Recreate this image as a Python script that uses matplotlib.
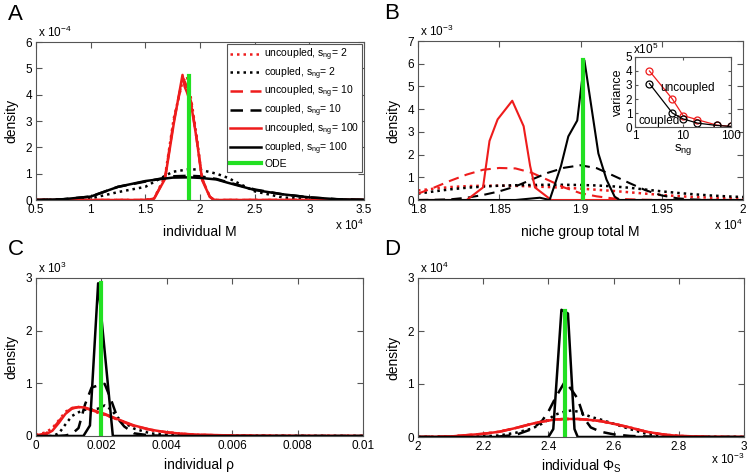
import matplotlib
matplotlib.use("Agg")
import matplotlib.pyplot as plt
import numpy as np

plt.rcParams['font.family'] = ['Liberation Sans', 'DejaVu Sans']
plt.rcParams['mathtext.fontset'] = 'custom'
plt.rcParams['mathtext.rm'] = 'Liberation Sans'
plt.rcParams['mathtext.it'] = 'Liberation Sans:italic'

RED = '#ee1c1c'
BLACK = '#000000'
GREEN = '#22e022'
DOT = (0, (1, 1.6))
DASH = (0, (5, 3))

# ---- panel A: individual M (x in 1e4, y in 1e-4)
a_x_black = [0.5, 0.75, 1.0, 1.25, 1.5, 1.65, 1.75, 1.9, 2.0, 2.15, 2.25, 2.5, 2.75, 3.0, 3.25, 3.5]
a_coupled2 = [0, 0.01, 0.06, 0.3, 0.5, 0.85, 1.07, 1.17, 1.15, 1.0, 0.85, 0.33, 0.1, 0.03, 0.01, 0]
a_coupled10 = [0, 0.03, 0.13, 0.5, 0.7, 0.82, 0.9, 0.92, 0.9, 0.8, 0.68, 0.4, 0.22, 0.1, 0.03, 0.01]
a_coupled100 = [0, 0.03, 0.13, 0.5, 0.72, 0.8, 0.85, 0.86, 0.84, 0.78, 0.66, 0.38, 0.22, 0.1, 0.03, 0.01]
a_x_red = [0.5, 1.5, 1.58, 1.68, 1.76, 1.84, 1.86, 1.88, 1.92, 1.97, 2.02, 2.09, 2.13, 3.5]
a_uncoupled2 = [0, 0, 0.06, 0.9, 3.1, 4.5, 4.6, 4.7, 3.8, 2.4, 0.8, 0.12, 0, 0]
a_uncoupled10 = [0, 0, 0.05, 0.85, 3.0, 4.6, 4.5, 4.3, 3.7, 2.3, 0.8, 0.12, 0, 0]
a_uncoupled100 = [0, 0, 0.05, 0.8, 2.9, 4.75, 4.3, 4.1, 3.6, 2.3, 0.75, 0.12, 0, 0]
a_ode = (1.9, 4.7)

# ---- panel B: niche group total M (x in 1e4, y in 1e-3)
b_x = [1.80, 1.81, 1.82, 1.83, 1.84, 1.85, 1.86, 1.87, 1.88, 1.89, 1.90,
       1.91, 1.92, 1.93, 1.94, 1.95, 1.96, 1.97, 1.98, 1.99, 2.00]
b_uncoupled2 = [0.42, 0.5, 0.57, 0.61, 0.63, 0.63, 0.62, 0.6, 0.57, 0.54, 0.5,
                0.45, 0.4, 0.34, 0.28, 0.22, 0.17, 0.13, 0.1, 0.08, 0.06]
b_coupled2 = [0.28, 0.38, 0.47, 0.54, 0.59, 0.63, 0.65, 0.66, 0.67, 0.67, 0.66,
              0.64, 0.6, 0.54, 0.46, 0.38, 0.31, 0.25, 0.2, 0.16, 0.13]
b_uncoupled10 = [0.28, 0.55, 0.85, 1.12, 1.33, 1.41, 1.39, 1.2, 0.88, 0.55, 0.3,
                 0.16, 0.07, 0.03, 0.01, 0, 0, 0, 0, 0, 0]
b_coupled10 = [0, 0.01, 0.03, 0.1, 0.22, 0.38, 0.6, 0.9, 1.2, 1.42, 1.53,
               1.4, 1.08, 0.75, 0.43, 0.2, 0.07, 0.02, 0, 0, 0]
b_x_red100 = [1.80, 1.83, 1.84, 1.844, 1.849, 1.858, 1.865, 1.869, 1.872, 1.882, 2.00]
b_uncoupled100 = [0, 0, 0.55, 2.6, 3.55, 4.37, 3.25, 1.5, 0.55, 0, 0]
b_x_black100 = [1.80, 1.86, 1.875, 1.881, 1.888, 1.8925, 1.898, 1.9024, 1.911, 1.916, 1.921, 1.924, 2.00]
b_coupled100 = [0, 0, 0.1, 0, 1.5, 2.8, 3.5, 6.15, 2.05, 0.9, 0.15, 0, 0]
b_ode = (1.9015, 6.15)

# inset: variance vs s_ng (y in 1e5)
sng = [2, 6, 10, 20, 50, 100]
var_uncoupled = [4.0, 2.0, 0.82, 0.52, 0.14, 0.04]
var_coupled = [3.1, 1.0, 0.58, 0.28, 0.11, 0.04]

# ---- panel C: individual rho (y in 1e3)
c_x = [0, 0.0003, 0.0005, 0.0007, 0.0009, 0.0011, 0.0013, 0.0015, 0.0017, 0.0019, 0.0021, 0.0023,
       0.0025, 0.0027, 0.003, 0.0035, 0.004, 0.0045, 0.005, 0.006, 0.007, 0.008, 0.01]
c_uncoupled2 = [0.02, 0.07, 0.15, 0.3, 0.46, 0.53, 0.55, 0.52, 0.48, 0.44, 0.4, 0.36,
                0.31, 0.26, 0.19, 0.11, 0.07, 0.04, 0.02, 0.01, 0.004, 0.001, 0]
c_uncoupled10 = [0.01, 0.05, 0.13, 0.28, 0.44, 0.53, 0.55, 0.53, 0.49, 0.45, 0.41, 0.36,
                 0.31, 0.26, 0.19, 0.12, 0.07, 0.04, 0.02, 0.01, 0.004, 0.001, 0]
c_uncoupled100 = [0, 0.03, 0.1, 0.25, 0.42, 0.52, 0.55, 0.54, 0.5, 0.46, 0.42, 0.37,
                  0.32, 0.27, 0.2, 0.12, 0.07, 0.04, 0.025, 0.01, 0.004, 0.001, 0]
c_coupled2 = [0, 0, 0, 0.05, 0.22, 0.38, 0.45, 0.5, 0.5, 0.52, 0.58, 0.5,
              0.35, 0.25, 0.14, 0.05, 0.02, 0.01, 0, 0, 0, 0, 0]
c_coupled10 = [0, 0, 0, 0, 0.01, 0.04, 0.15, 0.6, 0.92, 0.96, 0.99, 0.68,
               0.33, 0.18, 0.05, 0.01, 0, 0, 0, 0, 0, 0, 0]
c_x_black100 = [0, 0.00145, 0.00165, 0.0019, 0.00235, 0.01]
c_coupled100 = [0, 0, 0.2, 2.9, 0, 0]
c_ode = (0.002, 2.9)

# ---- panel D: individual Phi_S (x in 1e-3, y in 1e4)
d_x = [2.0, 2.1, 2.2, 2.25, 2.3, 2.35, 2.38, 2.4, 2.42, 2.45, 2.47, 2.49, 2.51, 2.53,
       2.56, 2.6, 2.65, 2.7, 2.75, 2.8, 2.9, 3.0]
d_uncoupled = [0, 0.01, 0.06, 0.1, 0.17, 0.25, 0.29, 0.31, 0.33, 0.34, 0.34, 0.34, 0.33, 0.32,
               0.3, 0.25, 0.18, 0.1, 0.05, 0.02, 0.003, 0]
d_coupled2 = [0, 0, 0.01, 0.03, 0.08, 0.16, 0.25, 0.33, 0.42, 0.48, 0.5, 0.48, 0.43, 0.38,
              0.33, 0.25, 0.15, 0.06, 0.02, 0.01, 0, 0]
d_coupled10 = [0, 0, 0, 0.01, 0.04, 0.15, 0.3, 0.48, 0.72, 1.04, 0.9, 0.72, 0.35, 0.18,
               0.1, 0.05, 0.02, 0.01, 0, 0, 0, 0]
d_x_black100 = [2.0, 2.40, 2.415, 2.44, 2.46, 2.48, 2.49, 3.0]
d_coupled100 = [0, 0, 0.15, 2.4, 2.33, 0.15, 0, 0]
d_ode = (2.45, 2.38)

FS = 8.5
W, H = 751, 476
fig = plt.figure(figsize=(W / 100, H / 100), dpi=100)


def add_axes(x0, y0, x1, y1):
    return fig.add_axes([x0 / W, 1 - y1 / H, (x1 - x0) / W, (y1 - y0) / H])


def style(ax, xlim, ylim, xticks, yticks, xlabels=None):
    ax.set_xlim(xlim)
    ax.set_ylim(ylim)
    ax.set_xticks(xticks)
    ax.set_yticks(yticks)
    if xlabels is not None:
        ax.set_xticklabels(xlabels)
    ax.tick_params(direction='in', length=4, top=True, right=True, labelsize=FS,
                   color='#555555', width=0.8, pad=3)
    for s in ax.spines.values():
        s.set_color('#555555')
        s.set_linewidth(0.8)


axA = add_axes(36, 42, 364, 200)
axB = add_axes(418, 41, 743, 200)
axC = add_axes(36, 278, 363, 436)
axD = add_axes(418, 278, 744, 437)

lw = 1.8
# A
axA.plot(a_x_red, a_uncoupled2, color=RED, ls=DOT, lw=lw, label=r'uncoupled, s$_{\rm ng}$= 2')
axA.plot(a_x_black, a_coupled2, color=BLACK, ls=DOT, lw=lw, label=r'coupled, s$_{\rm ng}$= 2')
axA.plot(a_x_red, a_uncoupled10, color=RED, ls=DASH, lw=lw, label=r'uncoupled, s$_{\rm ng}$= 10')
axA.plot(a_x_black, a_coupled10, color=BLACK, ls=DASH, lw=lw, label=r'coupled, s$_{\rm ng}$= 10')
axA.plot(a_x_red, a_uncoupled100, color=RED, lw=lw, label=r'uncoupled, s$_{\rm ng}$= 100')
axA.plot(a_x_black, a_coupled100, color=BLACK, lw=lw, label=r'coupled, s$_{\rm ng}$= 100')
axA.plot([a_ode[0], a_ode[0]], [0, a_ode[1]], color=GREEN, lw=3, label='ODE')
style(axA, (0.5, 3.5), (0, 6), [0.5, 1, 1.5, 2, 2.5, 3, 3.5], range(7),
      ['0.5', '1', '1.5', '2', '2.5', '3', '3.5'])
leg = axA.legend(loc='upper right', fontsize=7.5, handlelength=3.0, handletextpad=0.3,
                 labelspacing=0.22, borderpad=0.3, borderaxespad=0.15, fancybox=False,
                 framealpha=1, edgecolor='#555555')
leg.get_frame().set_linewidth(0.8)

# B
lwb = 1.5
axB.plot(b_x, b_uncoupled2, color=RED, ls=DOT, lw=lw)
axB.plot(b_x, b_coupled2, color=BLACK, ls=DOT, lw=lw)
axB.plot(b_x, b_uncoupled10, color=RED, ls=DASH, lw=lwb)
axB.plot(b_x, b_coupled10, color=BLACK, ls=DASH, lw=lwb)
axB.plot(b_x_red100, b_uncoupled100, color=RED, lw=lwb)
axB.plot(b_x_black100, b_coupled100, color=BLACK, lw=lwb)
axB.plot([b_ode[0], b_ode[0]], [0, b_ode[1]], color=GREEN, lw=3)
style(axB, (1.8, 2.0), (0, 7), [1.8, 1.85, 1.9, 1.95, 2.0], range(8),
      ['1.8', '1.85', '1.9', '1.95', '2'])

# inset
axI = add_axes(635, 57, 731, 127)
axI.plot(sng, var_uncoupled, color=RED, lw=0.9, marker='o', mfc='none', ms=5, mew=0.9)
axI.plot(sng, var_coupled, color=BLACK, lw=0.9, marker='o', mfc='none', ms=5, mew=0.9)
axI.set_xscale('log')
style(axI, (1, 100), (0, 5), [1, 10, 100], range(6), ['1', '10', '100'])
axI.minorticks_off()
axI.tick_params(labelsize=FS, length=2.5, pad=2)
axI.set_ylabel('variance', fontsize=FS + 0.5, labelpad=1)
axI.set_xlabel(r's$_{\rm ng}$', fontsize=FS + 1, labelpad=0)
axI.text(-0.02, 1.0, r'x10$^5$', transform=axI.transAxes, fontsize=FS, ha='left', va='bottom')
axI.text(0.55, 0.56, 'uncoupled', transform=axI.transAxes, fontsize=FS, ha='center', va='center')
axI.text(0.04, 0.08, 'coupled', transform=axI.transAxes, fontsize=FS, ha='left', va='center')

# C
axC.plot(c_x, c_uncoupled2, color=RED, ls=DOT, lw=lw)
axC.plot(c_x, c_coupled2, color=BLACK, ls=DOT, lw=lw)
axC.plot(c_x, c_uncoupled10, color=RED, ls=DASH, lw=lw)
axC.plot(c_x, c_coupled10, color=BLACK, ls=DASH, lw=lw)
axC.plot(c_x, c_uncoupled100, color=RED, lw=lw)
axC.plot(c_x_black100, c_coupled100, color=BLACK, lw=lw)
axC.plot([c_ode[0], c_ode[0]], [0, c_ode[1]], color=GREEN, lw=3)
style(axC, (0, 0.01), (0, 3), [0, 0.002, 0.004, 0.006, 0.008, 0.01], range(4),
      ['0', '0.002', '0.004', '0.006', '0.008', '0.01'])

# D
axD.plot(d_x, d_uncoupled, color=RED, ls=DOT, lw=lw)
axD.plot(d_x, d_coupled2, color=BLACK, ls=DOT, lw=lw)
axD.plot(d_x, d_uncoupled, color=RED, ls=DASH, lw=lw)
axD.plot(d_x, d_coupled10, color=BLACK, ls=DASH, lw=lw)
axD.plot(d_x, d_uncoupled, color=RED, lw=lw)
axD.plot(d_x_black100, d_coupled100, color=BLACK, lw=lw)
axD.plot([d_ode[0], d_ode[0]], [0, d_ode[1]], color=GREEN, lw=3)
style(axD, (2.0, 3.0), (0, 3), [2.0, 2.2, 2.4, 2.6, 2.8, 3.0], range(4),
      ['2', '2.2', '2.4', '2.6', '2.8', '3'])

# labels, multipliers, panel letters
LFS = 10
for ax, letter, lx, xl, ymult, xmult, xmy, lpad in [
        (axA, 'A', 8, 'individual M', r'x 10$^{-4}$', r'x 10$^4$', -0.11, 6),
        (axB, 'B', 384, 'niche group total M', r'x 10$^{-3}$', r'x 10$^4$', -0.11, 6),
        (axC, 'C', 8, 'individual ρ', r'x 10$^3$', None, 0, 4),
        (axD, 'D', 384, r'individual Φ$_{\rm S}$', r'x 10$^4$', r'x 10$^{-3}$', -0.095, 3)]:
    ax.set_xlabel(xl, fontsize=LFS, labelpad=lpad)
    ax.set_ylabel('density', fontsize=LFS)
    ax.yaxis.set_label_coords(-0.055, 0.5)
    ax.text(0.005, 1.015, ymult, transform=ax.transAxes, fontsize=FS, ha='left', va='bottom')
    if xmult:
        ax.text(1.0, xmy, xmult, transform=ax.transAxes, fontsize=FS, ha='right', va='top')
    pos = ax.get_position()
    fig.text(lx / W, pos.y1 + 28 / H, letter, fontsize=16, ha='left', va='center')

fig.savefig('out.png', dpi=100)
